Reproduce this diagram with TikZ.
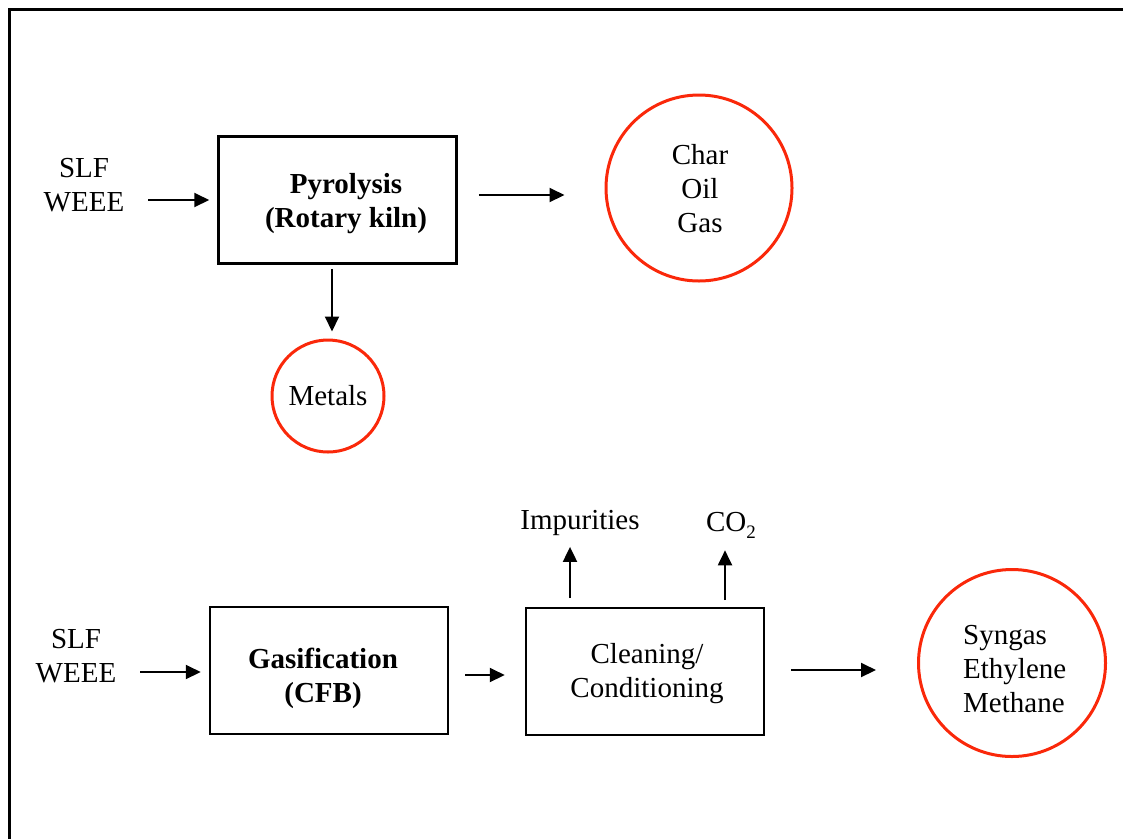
\documentclass[tikz,border=0pt]{standalone}
\usepackage{fontspec}
\setmainfont{Liberation Serif}
\usetikzlibrary{arrows.meta}
\definecolor{outred}{RGB}{250,40,10}
\tikzset{
  txt/.style={font=\fontsize{29}{34}\selectfont, align=center, inner sep=0pt},
  boldtxt/.style={txt, font=\fontsize{29}{34}\selectfont\bfseries},
  procbox/.style={draw, line width=2.5pt, minimum width=238pt, minimum height=127pt, inner sep=0pt},
  product/.style={circle, draw=outred, line width=3pt, inner sep=0pt},
  arr/.style={line width=2pt, -{Triangle[length=15pt,width=14pt]}}
}
\begin{document}
\begin{tikzpicture}[x=1pt,y=-1pt]
\useasboundingbox (0,0) rectangle (1123,839);
% outer frame
\draw[line width=3pt] (9,839) -- (9,9) -- (1123,9);

% ---- pyrolysis line ----
\node[txt] (in1) at (84,185) {SLF\\WEEE};
\node[procbox] (pyro) at (337.5,200) {};
\node[boldtxt] (pyrotxt) at (346,204) {Pyrolysis\\(Rotary kiln)};
\node[product, minimum size=186pt] (char) at (699,188) {};
\node[txt] (chartxt) at (700,189) {Char\\Oil\\Gas};
\node[product, minimum size=112pt] (metals) at (328,396) {};
\node[txt] (metalstxt) at (328,396) {Metals};

\coordinate (in1end) at (148,200);
\draw[arr, shorten >=8pt] (in1end) -- (pyro.west);
\draw[arr, shorten <=21pt, shorten >=40pt] ([yshift=5pt]pyro.east) -- ([yshift=5pt]char.west |- pyro.east);
\draw[arr, shorten <=4pt, shorten >=7pt] ([xshift=4pt]pyro.south -| metals.north) -- ([xshift=4pt]metals.north);

% ---- gasification line ----
\node[txt] (in2) at (76,656) {SLF\\WEEE};
\node[procbox] (gas) at (329,670.5) {};
\node[boldtxt] (gastxt) at (323,678) {Gasification\\(CFB)};
\node[procbox] (clean) at (645,671.5) {};
\node[txt] (cleantxt) at (647,674) {Cleaning/\\Conditioning};
\node[product, minimum size=187pt] (syngas) at (1012,663) {};
\node[txt, align=left, anchor=west] (syngastxt) at (963,669) {Syngas\\Ethylene\\Methane};
\node[txt] (impur) at (580,523) {Impurities};
\node[txt] (co2) at (731,525) {CO\raisebox{-7pt}{\fontsize{19}{19}\selectfont 2}};

\coordinate (in2end) at (140,672);
\draw[arr, shorten >=8pt] (in2end) -- (gas.west |- in2end);
\coordinate (gasout) at (465,675);
\draw[arr, shorten >=20pt] (gasout) -- (clean.west |- gasout);
\coordinate (cleanout) at (791,670);
\draw[arr, shorten >=41pt] (cleanout) -- (syngas.west |- cleanout);
\coordinate (impurbase) at (570,598);
\draw[arr, shorten >=11pt] (impurbase) -- (impur.south -| impurbase);
\coordinate (co2base) at (725,600);
\draw[arr, shorten >=12pt] (co2base) -- (co2.south -| co2base);
\end{tikzpicture}
\end{document}
